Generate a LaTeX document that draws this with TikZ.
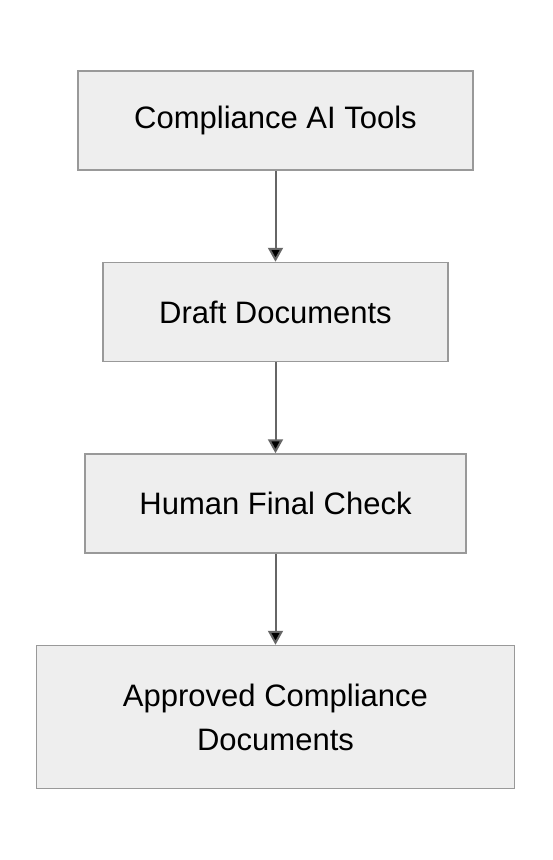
\documentclass[tikz,border=0pt]{standalone}
\usepackage{fontspec}
\setmainfont{Liberation Sans}
\usetikzlibrary{arrows.meta,positioning}
\definecolor{boxfill}{HTML}{EEEEEE}
\definecolor{boxline}{HTML}{999999}
\definecolor{arrowcol}{HTML}{666666}

\begin{document}
\begin{tikzpicture}[x=1pt,y=1pt,->,>={Triangle[length=14pt,width=15pt]},
                    node distance=91pt,
                    box/.style={draw=boxline,fill=boxfill,line width=1.5pt,
                                minimum height=99pt,align=center,
                                font=\fontsize{31pt}{44pt}\selectfont},
                    flow/.style={draw=arrowcol,line width=2pt}]
  \useasboundingbox (0,0) rectangle (552,-860);

  \node[box,minimum width=395pt] (tools) at (275.5,-120.5) {Compliance AI Tools};
  \node[box,minimum width=345pt] (draft) [below=of tools] {Draft Documents};
  \node[box,minimum width=381pt] (check) [below=of draft] {Human Final Check};
  \node[box,minimum width=478pt,minimum height=143pt] (approved) [below=of check]
       {Approved Compliance\\Documents};

  \path[flow] (tools) edge (draft)
              (draft) edge (check)
              (check) edge (approved);
\end{tikzpicture}
\end{document}
